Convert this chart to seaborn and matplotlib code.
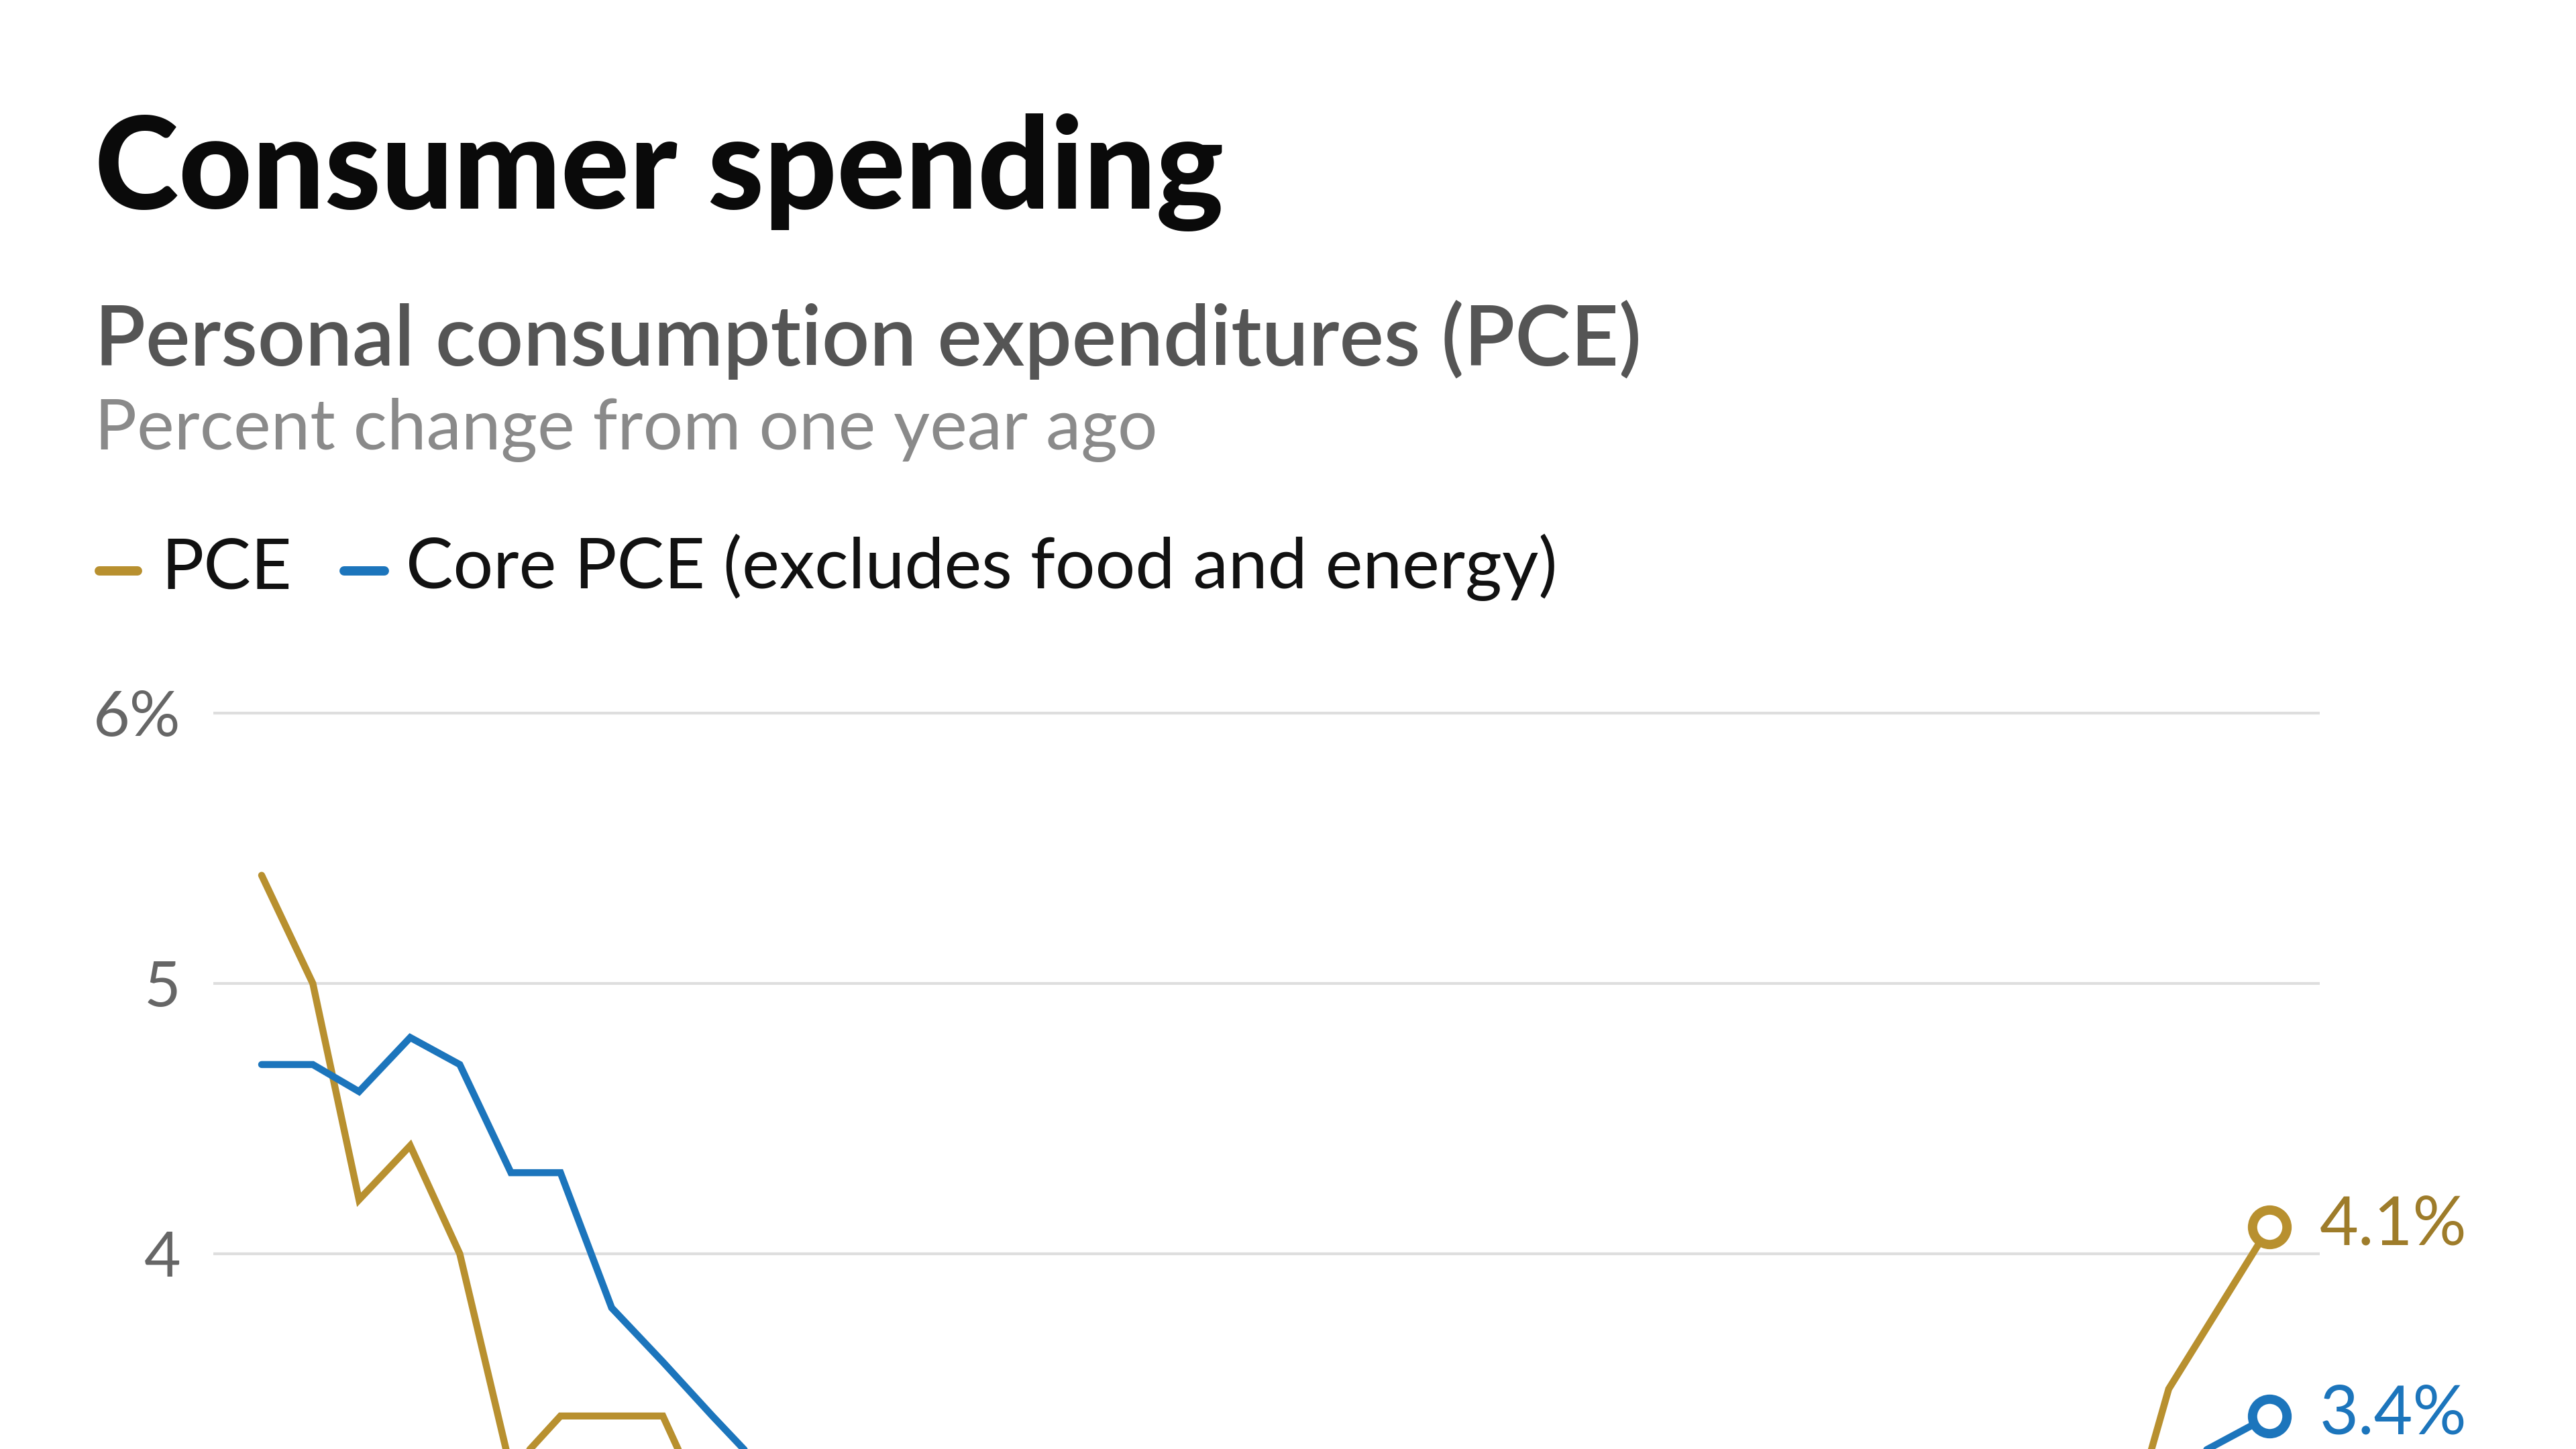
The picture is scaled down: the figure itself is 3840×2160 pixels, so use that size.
import matplotlib
matplotlib.use("Agg")
import matplotlib.pyplot as plt
from matplotlib.lines import Line2D
import seaborn as sns
import pandas as pd
import numpy as np

# ---------------- data ----------------
months = list(pd.date_range("2023-01-01", "2026-03-01", freq="MS")) + [pd.Timestamp("2026-05-01")]

pce = [5.4, 5.0, 4.2, 4.4, 4.0, 3.2, 3.4, 3.4, 3.4, 3.0, 2.7, 2.6,
       2.5, 2.5, 2.7, 2.7, 2.6, 2.5, 2.5, 2.3, 2.1, 2.3, 2.4, 2.6,
       2.5, 2.3, 2.3, 2.2, 2.4, 2.6, 2.6, 2.7, 2.8, 2.8, 2.8, 2.9,
       2.9, 2.9, 3.5, 4.1]
core_pce = [4.7, 4.7, 4.6, 4.8, 4.7, 4.3, 4.3, 3.8, 3.6, 3.4, 3.2, 2.9,
            2.9, 2.8, 2.9, 2.8, 2.6, 2.6, 2.7, 2.7, 2.7, 2.8, 2.8, 2.9,
            2.7, 2.8, 2.7, 2.6, 2.7, 2.8, 2.9, 2.9, 2.8, 2.8, 2.8, 3.0,
            3.0, 3.1, 3.2, 3.4]
series_names = ["PCE", "Core PCE (excludes food and energy)"]
y_ticks = [4, 5, 6]
y_tick_labels = ["4", "5", "6%"]

title = "Consumer spending"
subtitle = "Personal consumption expenditures (PCE)"
subtitle2 = "Percent change from one year ago"

# ---------------- style ----------------
GOLD = "#B8902F"
GOLD_TXT = "#9E7C2A"
BLUE = "#1C75BC"
sns.set_theme(style="white")
plt.rcParams["font.family"] = ["Lato", "DejaVu Sans"]

W, H = 3840, 2160
fig = plt.figure(figsize=(W / 100, H / 100), dpi=100)
fig.patch.set_facecolor("white")

px_per_unit = 403.0
y_top, y_bot = 6.1, 1.5
ax_top_px = 1063 - (y_top - 6) * px_per_unit
ax_h_px = (y_top - y_bot) * px_per_unit
ax = fig.add_axes([318 / W, 1 - (ax_top_px + ax_h_px) / H, 3140 / W, ax_h_px / H])
ax.set_facecolor("white")

df = pd.DataFrame({
    "date": months * 2,
    "value": pce + core_pce,
    "series": [series_names[0]] * len(months) + [series_names[1]] * len(months),
})
palette = {series_names[0]: GOLD, series_names[1]: BLUE}
sns.lineplot(data=df, x="date", y="value", hue="series", palette=palette,
             linewidth=7.5, legend=False, ax=ax, zorder=3)
for ln in ax.get_lines():
    ln.set_solid_joinstyle("miter")

# end markers + labels
for vals, col, tcol in [(pce, GOLD, GOLD_TXT), (core_pce, BLUE, BLUE)]:
    ax.plot([months[-1]], [vals[-1]], "o", ms=37, mew=10, mfc="white", mec=col,
            zorder=5, clip_on=False)
    ax.annotate(f"{vals[-1]}%", xy=(months[-1], vals[-1]), xytext=(54, -19),
                textcoords="offset points", ha="left", va="baseline",
                fontsize=72, color=tcol, annotation_clip=False)

days_span = (months[-1] - months[0]).days
px_per_day = (3383 - 390) / days_span
ax.set_xlim(months[0] - pd.Timedelta(days=72 / px_per_day),
            months[-1] + pd.Timedelta(days=75 / px_per_day))
ax.set_ylim(y_bot, y_top)

ax.set_yticks(y_ticks)
ax.set_yticklabels(y_tick_labels)
ax.yaxis.grid(True, color="#DEDEDE", linewidth=3)
ax.xaxis.grid(False)
ax.set_xticks([])
ax.tick_params(axis="y", length=0, pad=35, labelsize=68, labelcolor="#666666")
for s in ax.spines.values():
    s.set_visible(False)
ax.set_xlabel("")
ax.set_ylabel("")

# ---------------- texts ----------------
def fy(px):
    return 1 - px / H

t_title = fig.text(141 / W, fy(311), title, fontsize=120, fontweight="black",
                   color="#0A0A0A", va="baseline", ha="left")
t_sub = fig.text(141 / W, fy(545), subtitle, fontsize=80, fontweight="semibold",
                 color="#555555", va="baseline", ha="left")
t_sub2 = fig.text(141 / W, fy(670), subtitle2, fontsize=67, fontweight="normal",
                  color="#8A8A8A", va="baseline", ha="left")

leg_y = 851
fig.add_artist(Line2D([148 / W, 205 / W], [fy(leg_y)] * 2, transform=fig.transFigure,
                      lw=10, color=GOLD, solid_capstyle="round"))
fig.add_artist(Line2D([513 / W, 573 / W], [fy(leg_y)] * 2, transform=fig.transFigure,
                      lw=10, color=BLUE, solid_capstyle="round"))
t_l1 = fig.text(240 / W, fy(877), series_names[0], fontsize=70, color="#111111",
                va="baseline", ha="left")
t_l2 = fig.text(605 / W, fy(877), series_names[1], fontsize=70, color="#111111",
                va="baseline", ha="left")

renderer = fig.canvas.get_renderer()
def fit(t, target):
    w = t.get_window_extent(renderer).width
    t.set_fontsize(t.get_fontsize() * target / w)

fit(t_title, 1683)
fit(t_sub, 2310)
fit(t_sub2, 1584)
fit(t_l2, 1717)
t_l1.set_fontsize(t_l2.get_fontsize())

fig.savefig("out.png", dpi=100, facecolor="white")
